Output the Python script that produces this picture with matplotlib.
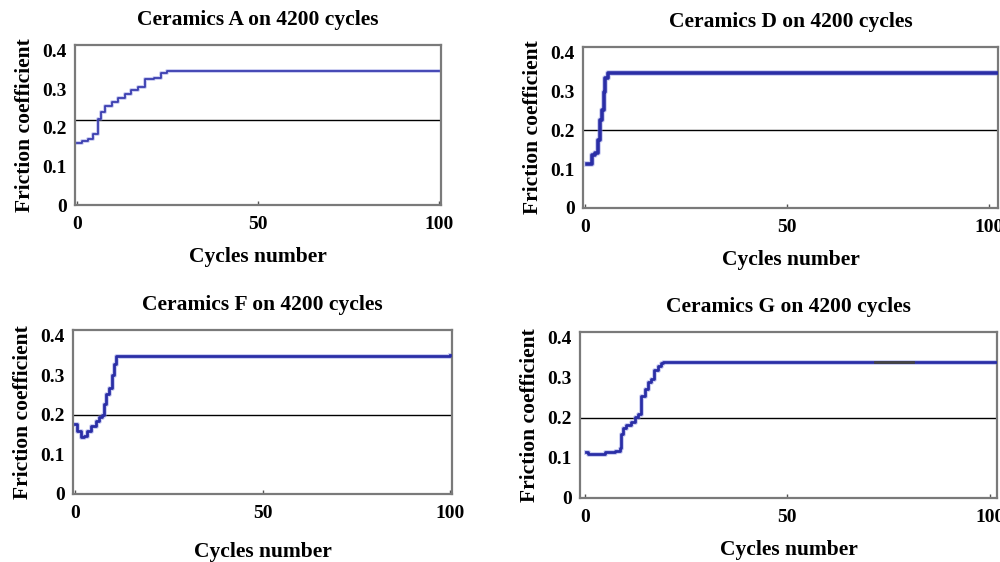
import matplotlib.pyplot as plt

plt.rcParams['font.family'] = ['Liberation Serif', 'DejaVu Serif']
plt.rcParams['font.weight'] = 'bold'

# friction coefficient vs cycles number
a_x = [0, 1.5, 3, 4.5, 5.8, 6.8, 7.7, 9.6, 11.4, 13.2, 15, 16.8, 18.7, 21.4, 23.2, 25, 100]
a_y = [0.161, 0.165, 0.171, 0.185, 0.222, 0.241, 0.257, 0.267, 0.278, 0.287, 0.297, 0.307, 0.328, 0.330, 0.343, 0.348, 0.348]

d_x = [0.4, 1.5, 1.7, 2.5, 3.3, 3.7, 4.1, 4.6, 5.0, 5.8, 103]
d_y = [0.114, 0.114, 0.137, 0.142, 0.175, 0.226, 0.252, 0.300, 0.336, 0.347, 0.347]

f_x = [0, 0.6, 1.5, 2.4, 3.3, 4.2, 5.5, 6.4, 7.1, 7.7, 8.4, 9.1, 9.8, 10.4, 10.9, 100]
f_y = [0.177, 0.160, 0.145, 0.147, 0.160, 0.172, 0.185, 0.195, 0.200, 0.227, 0.252, 0.268, 0.300, 0.330, 0.350, 0.352]

g_x = [0.4, 0.8, 4.5, 5.0, 7.4, 8.6, 9.0, 9.4, 10.2, 11.5, 12.3, 13.1, 13.9, 14.8, 15.6, 16.4, 17.0, 18.0, 18.9, 19.3, 102]
g_y = [0.116, 0.110, 0.110, 0.116, 0.118, 0.126, 0.159, 0.175, 0.183, 0.191, 0.203, 0.211, 0.256, 0.272, 0.289, 0.297, 0.320, 0.329, 0.337, 0.341, 0.341]

titles = ['Ceramics A on 4200 cycles', 'Ceramics D on 4200 cycles',
          'Ceramics F on 4200 cycles', 'Ceramics G on 4200 cycles']
ref_lines = [0.22, 0.2, 0.2, 0.2]

W, H = 1000, 562
fig = plt.figure(figsize=(10, 5.62), dpi=100)

# axes boxes in pixels: left, right, top, bottom
boxes = [(75, 441, 45, 205), (583, 998, 47, 208), (73, 452, 330, 494), (580, 997, 332, 498)]
xlims = [(-0.5, 100.5), (-0.5, 102.2), (-0.5, 100.5), (-1.2, 101.8)]
series = [(a_x, a_y), (d_x, d_y), (f_x, f_y), (g_x, g_y)]
widths = [1.3, 2.6, 2.0, 2.0]
line_cols = ['#3a3eb0', '#2a2ea6', '#2a2ea6', '#2a2ea6']
xpads = [10, 10, 14, 10]

for i in range(4):
    l, r, t, b = boxes[i]
    ax = fig.add_axes([l / W, 1 - b / H, (r - l) / W, (b - t) / H])
    xs, ys = series[i]
    ax.axhline(ref_lines[i], color='black', lw=1.0, zorder=1)
    ax.plot(xs, ys, color='#8a8fe0', lw=widths[i] + 1.5, alpha=0.45, zorder=2,
            drawstyle='steps-post')
    ax.plot(xs, ys, color=line_cols[i], lw=widths[i], zorder=3, drawstyle='steps-post')
    if i == 3:
        ax.plot([71.6, 81], [0.341, 0.341], color='#444444', lw=2.0, zorder=4)
    ax.set_xlim(*xlims[i])
    ax.set_ylim(0, 0.415)
    ax.set_xticks([0, 50, 100])
    ax.set_xticklabels(['0', '50', '100'])
    ax.set_yticks([0, 0.1, 0.2, 0.3, 0.4])
    ax.set_yticklabels(['0', '0.1', '0.2', '0.3', '0.4'])
    ax.tick_params(axis='y', length=0, pad=6, labelsize=14)
    ax.tick_params(axis='x', direction='in', length=3, width=1, color='#555555',
                   pad=8, labelsize=14)
    for s in ax.spines.values():
        s.set_color('#7a7a7a')
        s.set_linewidth(1.6)
    ax.set_title(titles[i], fontsize=15.5, fontweight='bold', pad=14.5)
    ax.set_xlabel('Cycles number', fontsize=15.5, fontweight='bold', labelpad=xpads[i])
    ax.set_ylabel('Friction coefficient', fontsize=15.5, fontweight='bold', labelpad=5)

fig.savefig('out.png', dpi=100)
